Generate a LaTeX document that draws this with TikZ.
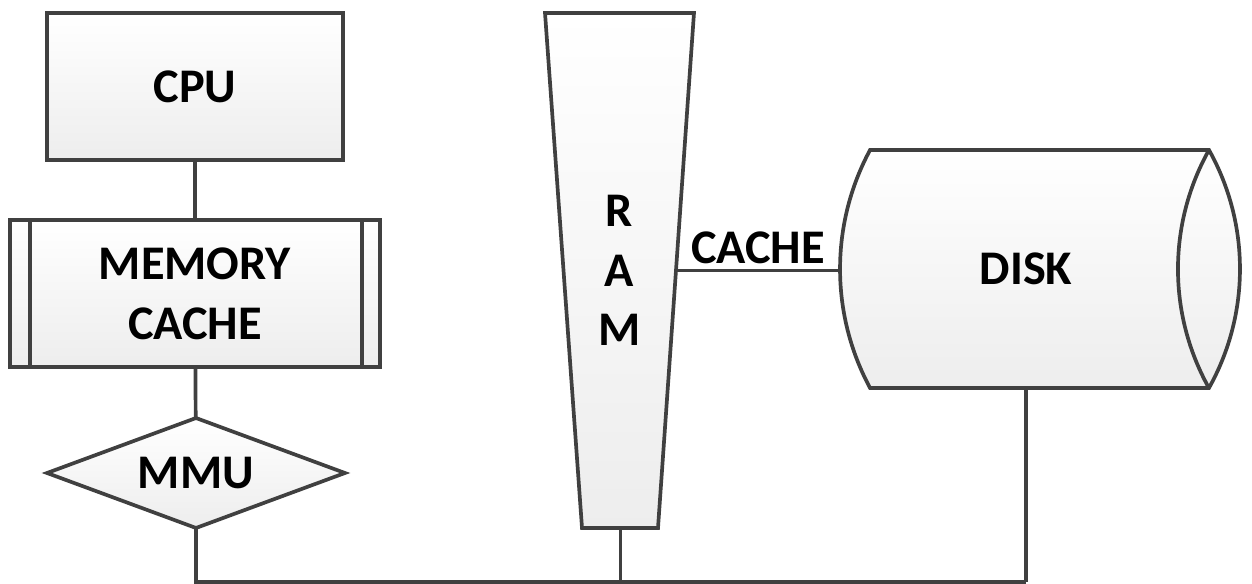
\documentclass[tikz,border=0pt]{standalone}
\usepackage{fontspec}
\setmainfont{Carlito}
\usetikzlibrary{shapes.geometric, backgrounds}
\definecolor{lineGray}{HTML}{404040}
\begin{document}
\begin{tikzpicture}[x=0.02cm, y=-0.02cm,
    bigtext/.style={font=\fontsize{27.5}{34}\selectfont\bfseries},
    unit/.style={draw=lineGray, line width=2.1pt, top color=white, bottom color=black!7,
        outer sep=0pt, inner sep=2pt, align=center, bigtext},
    outline/.style={draw=lineGray, line width=2.1pt, top color=white, bottom color=black!7},
    wire/.style={draw=lineGray, line width=2.1pt}]
    \useasboundingbox (0,0) rectangle (1252,584);
    % CPU and memory cache
    \node[unit, rectangle, minimum width=5.92cm, minimum height=2.94cm] (cpu) at (195,86.5) {CPU};
    \node[unit, rectangle, minimum width=7.4cm, minimum height=2.94cm] (mc) at (195,293.5) {MEMORY\\CACHE};
    \draw[wire] ([xshift=0.4cm]mc.north west) -- ([xshift=0.4cm]mc.south west);
    \draw[wire] ([xshift=-0.36cm]mc.north east) -- ([xshift=-0.36cm]mc.south east);
    % MMU
    \node[unit, diamond, aspect=2.7, minimum width=5.96cm, minimum height=2.2cm] (mmu) at (196,473) {MMU};
    % RAM
    \node[bigtext, align=center, minimum width=2.98cm, minimum height=10.3cm, outer sep=0pt] (ram) at (619.5,270.5) {R\\A\\M};
    % Disk
    \node[minimum width=6.78cm, minimum height=4.76cm, outer sep=0pt] (disk) at (1039.5,269) {};
    \node[bigtext] (disklbl) at ([xshift=-0.27cm]disk.center) {DISK};
    \begin{scope}[on background layer]
        \draw[outline] (ram.north west) -- (ram.north east) -- ([xshift=-0.72cm]ram.south east)
            -- ([xshift=0.74cm]ram.south west) -- cycle;
        \draw[outline] (disk.north west) arc[start angle=151.7, end angle=208.3, radius=5.02cm]
            -- (disk.south east) arc[start angle=-29.2, end angle=29.2, radius=4.88cm] -- cycle;
    \end{scope}
    \draw[wire] (disk.north east) arc[start angle=150.8, end angle=209.2, radius=4.88cm];
    \coordinate (busEnd) at (1026,582);

    \draw[wire] (cpu) -- (mc);
    \draw[wire] (mc) -- (mmu);
    \draw[wire] ([xshift=-0.36cm]ram.east) -- node[above, bigtext, inner sep=2.5pt] (cachelbl) {CACHE}
        ([xshift=-0.6cm]disk.west |- ram.east);
    % Bus
    \draw[wire] (mmu.south) |- (busEnd);
    \draw[wire] ([xshift=0.02cm]ram.south) -- ([xshift=0.02cm]ram.south |- busEnd);
    \draw[wire] (busEnd |- disk.south) -- (busEnd);
\end{tikzpicture}
\end{document}
